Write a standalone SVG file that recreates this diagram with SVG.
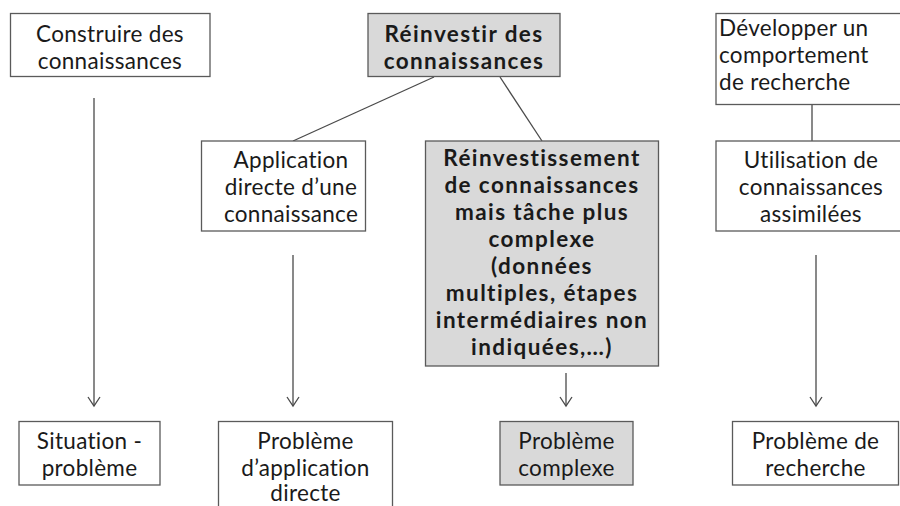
<svg xmlns="http://www.w3.org/2000/svg" width="900" height="506" viewBox="0 0 900 506">
<style>
.box{fill:#ffffff;stroke:#5a5a5a;stroke-width:1.3}
.gray{fill:#d9d9d9;stroke:#5a5a5a;stroke-width:1.3}
.t{font-family:Lato,"Open Sans","Liberation Sans",sans-serif;font-size:22.5px;fill:#1a1a1a;text-anchor:middle;letter-spacing:0.3px}
.b{font-weight:bold;letter-spacing:1.4px}
.l{text-anchor:start}
.c{stroke:#4a4a4a;stroke-width:1.3;fill:none}
</style>
<defs>
<marker id="ah" markerUnits="userSpaceOnUse" markerWidth="14" markerHeight="16" viewBox="-11 -8 13 16" refX="0" refY="0" orient="auto">
<path d="M-9,-6 L0,0 L-9,6" fill="none" stroke="#4a4a4a" stroke-width="1.3"/>
</marker>
</defs>
<rect width="900" height="506" fill="#ffffff"/>
<g id="connectors">
<line class="c" x1="94" y1="98" x2="94" y2="406" marker-end="url(#ah)"/>
<line class="c" x1="293" y1="255" x2="293" y2="406" marker-end="url(#ah)"/>
<line class="c" x1="566" y1="373" x2="566" y2="406" marker-end="url(#ah)"/>
<line class="c" x1="816" y1="255" x2="816" y2="406" marker-end="url(#ah)"/>
<line class="c" x1="434" y1="77" x2="293" y2="141"/>
<line class="c" x1="500" y1="77" x2="542" y2="141"/>
<line class="c" x1="812" y1="104" x2="812" y2="141"/>
</g>
<g id="n-construire">
<rect class="box" x="10.5" y="13.5" width="199.5" height="63"/>
<text class="t"><tspan x="110" y="42">Construire des</tspan><tspan x="110" y="69">connaissances</tspan></text>
</g>
<g id="n-reinvestir">
<rect class="gray" x="368" y="13.5" width="192" height="63"/>
<text class="t b"><tspan x="464" y="42">Réinvestir des</tspan><tspan x="464" y="69">connaissances</tspan></text>
</g>
<g id="n-developper">
<rect class="box" x="716" y="13.5" width="190" height="91"/>
<text class="t l"><tspan x="719" y="36">Développer un</tspan><tspan x="719" y="63">comportement</tspan><tspan x="719" y="90">de recherche</tspan></text>
</g>
<g id="n-application">
<rect class="box" x="201.5" y="141" width="164" height="90"/>
<text class="t"><tspan x="291" y="168">Application</tspan><tspan x="291" y="195">directe d’une</tspan><tspan x="291" y="222">connaissance</tspan></text>
</g>
<g id="n-reinvestissement">
<rect class="gray" x="425.5" y="141" width="233" height="225"/>
<text class="t b"><tspan x="542" y="166">Réinvestissement</tspan><tspan x="542" y="193">de connaissances</tspan><tspan x="542" y="220">mais tâche plus</tspan><tspan x="542" y="247">complexe</tspan><tspan x="542" y="274">(données</tspan><tspan x="542" y="301">multiples, étapes</tspan><tspan x="542" y="328">intermédiaires non</tspan><tspan x="542" y="355">indiquées,…)</tspan></text>
</g>
<g id="n-utilisation">
<rect class="box" x="716" y="141" width="190" height="90"/>
<text class="t"><tspan x="811" y="168">Utilisation de</tspan><tspan x="811" y="195">connaissances</tspan><tspan x="811" y="222">assimilées</tspan></text>
</g>
<g id="n-situation">
<rect class="box" x="19" y="421.5" width="141" height="63.5"/>
<text class="t"><tspan x="89.5" y="449">Situation -</tspan><tspan x="89.5" y="476">problème</tspan></text>
</g>
<g id="n-application-directe">
<rect class="box" x="218.5" y="421.5" width="174" height="100"/>
<text class="t"><tspan x="305.5" y="449">Problème</tspan><tspan x="305.5" y="476">d’application</tspan><tspan x="305.5" y="501">directe</tspan></text>
</g>
<g id="n-complexe">
<rect class="gray" x="500" y="421.5" width="133" height="63.5"/>
<text class="t"><tspan x="566.5" y="449">Problème</tspan><tspan x="566.5" y="476">complexe</tspan></text>
</g>
<g id="n-recherche">
<rect class="box" x="732.5" y="421.5" width="166" height="63.5"/>
<text class="t"><tspan x="815.5" y="449">Problème de</tspan><tspan x="815.5" y="476">recherche</tspan></text>
</g>
</svg>
